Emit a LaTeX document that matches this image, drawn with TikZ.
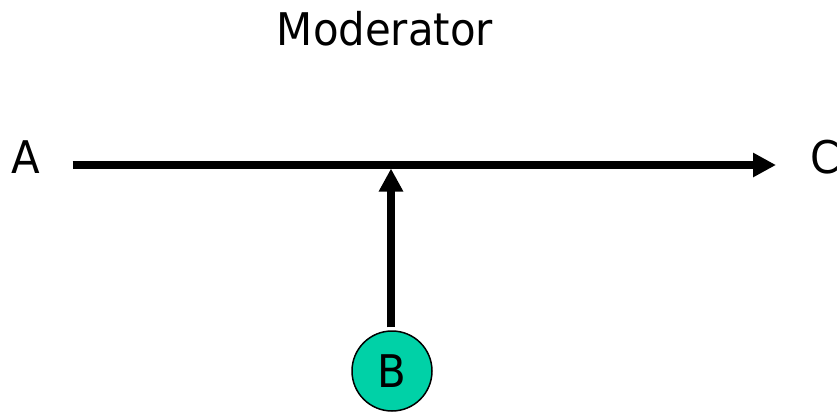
\documentclass[tikz,border=0pt]{standalone}
\usepackage{fontspec}
\setmainfont{DejaVu Sans}[FakeStretch=0.93]
\usetikzlibrary{arrows.meta}
\definecolor{modgreen}{RGB}{0,209,167}
\begin{document}
\begin{tikzpicture}[x=1pt,y=-1pt,
  label/.style={font=\fontsize{45}{50}\selectfont, inner sep=0pt, anchor=base},
  arr/.style={line width=8.5pt, -{Triangle[length=23pt,width=23pt]}},
  moderator/.style={circle, draw=black, line width=1.5pt, fill=modgreen,
    minimum size=80pt, inner sep=0pt, font=\fontsize{45}{50}\selectfont}]
  \useasboundingbox (0,0) rectangle (838,412);
  % labels
  \node[label] (title) at (385,46) {Moderator};
  \node[label] (A) at (25.5,173) {A};
  \node[label] (C) at (825,173) {C};
  % moderator node
  \node[moderator] (B) at (392,371) {B};
  % main path A -> C
  \coordinate (start) at (72.5,165);
  \coordinate (end) at (776,165);
  \draw[arr] (start) -- (end);
  % moderating effect on the path
  \coordinate (hit) at (391,168.5);
  \draw[arr, shorten <=3pt] (B.north -| hit) -- (hit);
\end{tikzpicture}
\end{document}
